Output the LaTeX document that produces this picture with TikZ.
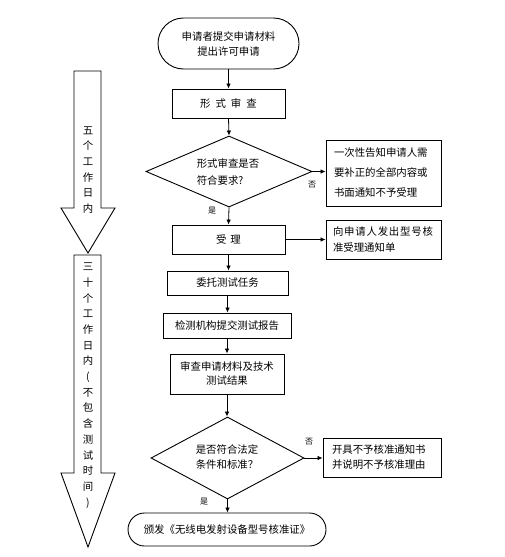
\documentclass[tikz,border=0pt]{standalone}
\usepackage{fontspec}
\newfontfamily\cjk{Noto Sans CJK SC}
\usetikzlibrary{shapes.geometric,arrows.meta}
\begin{document}
\begin{tikzpicture}[x=1pt,y=-1pt,
  every node/.style={font=\cjk\fontsize{10.4}{15}\selectfont, inner sep=0pt},
  boxn/.style={draw, line width=0.9pt, rectangle, align=center},
  termn/.style={draw, line width=0.9pt, rectangle, align=center},
  dian/.style={draw, line width=0.9pt, diamond},
  sidebox/.style={draw, line width=0.9pt, rectangle, align=left},
  lbl/.style={font=\cjk\fontsize{8}{9}\selectfont},
  conn/.style={line width=0.8pt, -{Latex[length=5pt,width=4.5pt]}},
  bigarrow/.style={draw, line width=0.9pt, fill=white},
  vtext/.style={align=center, font=\cjk\fontsize{10.4}{15.7}\selectfont}]
\useasboundingbox (0,0) rectangle (504,557);

% left time arrows
\draw[bigarrow] (74,71) -- (101,71) -- (101,208) -- (115,208) -- (88,253) -- (61,208) -- (74,208) -- cycle;
\draw[bigarrow] (74,255) -- (101,255) -- (101,473) -- (115,473) -- (88,547) -- (61,473) -- (74,473) -- cycle;
\node[vtext] (la1) at (88,170) {五\\个\\工\\作\\日\\内};
\node[vtext] (la2) at (88,385.5) {三\\十\\个\\工\\作\\日\\内\\(\\不\\包\\含\\测\\试\\时\\间\\)};

% main column
\node[termn, minimum width=141pt, minimum height=51pt, rounded corners=25.5pt] (start) at (228.5,43.5) {申请者提交申请材料\\提出许可申请};
\node[boxn, minimum width=113pt, minimum height=29pt] (form) at (228.5,103.5) {形\hspace{5pt}式\hspace{5pt}审\hspace{5pt}查};
\node[dian, minimum width=166pt, minimum height=71pt] (d1) at (229,171.5) {};
\node[align=left, font=\cjk\fontsize{10.4}{17}\selectfont] (t1) at (228,172.5) {形式审查是否\\符合要求?};
\node[sidebox, minimum width=115pt, minimum height=66pt, text width=99pt, inner xsep=8pt, font=\cjk\fontsize{10.4}{20}\selectfont] (r1) at (383.5,173) {一次性告知申请人需\\要补正的全部内容或\\书面通知不予受理};
\node[boxn, minimum width=113pt, minimum height=29pt] (acc) at (228.5,239.5) {受\hspace{4pt}理};
\node[sidebox, minimum width=115pt, minimum height=39pt, text width=101pt, inner xsep=7pt, font=\cjk\fontsize{10.4}{16}\selectfont] (r2) at (383.5,239.5) {\makebox[100pt][s]{向\hfill 申\hfill 请\hfill 人\hfill 发\hfill 出\hfill 型\hfill 号\hfill 核}\\准受理通知单};
\node[boxn, minimum width=121pt, minimum height=24pt] (task) at (227.5,283) {委托测试任务};
\node[boxn, minimum width=128pt, minimum height=25pt] (rep) at (227,325.5) {检测机构提交测试报告};
\node[boxn, minimum width=114pt, minimum height=40pt, font=\cjk\fontsize{10.4}{14}\selectfont] (rev) at (227,374) {审查申请材料及技术\\测试结果};
\node[dian, minimum width=153pt, minimum height=82pt] (d2) at (227.5,458) {};
\node[align=left, font=\cjk\fontsize{10.4}{15}\selectfont] (t2) at (227,457.5) {是否符合法定\\条件和标准？};
\node[sidebox, minimum width=118pt, minimum height=39pt, text width=100pt, inner xsep=9pt, font=\cjk\fontsize{10.4}{15}\selectfont] (r3) at (382,457.5) {开具不予核准通知书\\并说明不予核准理由};
\node[termn, minimum width=198pt, minimum height=33pt, rounded corners=16.5pt] (fin) at (227,529.5) {颁发《无线电发射设备型号核准证》};

% labels
\node[lbl] (no1) at (312,185) {否};
\node[lbl] (yes1) at (212,211) {是};
\node[lbl] (no2) at (309,442) {否};
\node[lbl] (yes2) at (204,502) {是};

% connectors
\draw[conn] (start.south) -- (form.north);
\draw[conn] (form.south) -- (d1.north);
\draw[conn] (d1.east) -- (r1.west |- d1.east);
\draw[conn] (d1.south) -- (acc.north);
\draw[conn] (acc.east) -- (r2.west |- acc.east);
\draw[conn] (acc.south) -- (task.north -| acc.south);
\draw[conn] (task.south) -- (rep.north -| task.south);
\draw[conn] (rep.south) -- (rev.north -| rep.south);
\draw[conn] (rev.south) -- (d2.north -| rev.south);
\draw[conn] (d2.east) -- (r3.west |- d2.east);
\draw[conn] (d2.south) -- (fin.north -| d2.south);
\end{tikzpicture}
\end{document}
